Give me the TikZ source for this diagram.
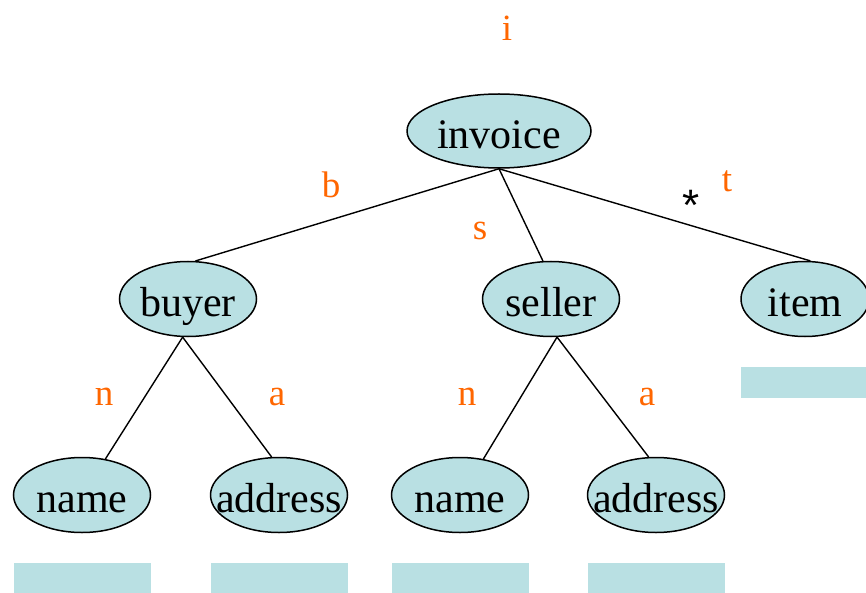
\documentclass[tikz,border=0pt]{standalone}
\usepackage{fontspec}
\setmainfont{Liberation Serif}
\newfontfamily\starfont{Liberation Sans}
\definecolor{elemfill}{RGB}{185, 224, 227}
\definecolor{lblorange}{RGB}{255, 102, 0}
\usetikzlibrary{shapes.geometric, positioning}
\newcommand{\elemtext}[1]{\makebox[0pt]{#1}}
\tikzset{
	elem/.style={ellipse, draw=black, fill=elemfill, line width=1.5pt, inner sep=0pt, minimum width=137pt, minimum height=75pt, text height=37pt, text depth=2pt, font=\fontsize{42}{48}\selectfont},
	slot/.style={rectangle, fill=elemfill, inner sep=0pt, minimum width=137pt, minimum height=31pt},
	lbl/.style={text=lblorange, inner sep=0pt, font=\fontsize{37}{44}\selectfont},
	edge/.style={line width=1.4pt, draw=black},
}

\begin{document}
\begin{tikzpicture}[x=1pt, y=-1pt]
		\useasboundingbox (0,0) rectangle (866,593);
		% tree of elements
		\node[elem, minimum width=184pt, minimum height=74pt] (invoice) at (499,131) {\elemtext{invoice}};
		\node[elem] (buyer) at (188,299) {\elemtext{buyer}};
		\node[elem] (seller) at (551,299) {\elemtext{seller}};
		\node[elem, minimum width=128pt] (item) at (805,299) {\elemtext{item}};
		\node[elem] (bname) at (82,495) {\elemtext{name}};
		\node[elem] (baddr) at (279,495) {\elemtext{address}};
		\node[elem] (sname) at (460,495) {\elemtext{name}};
		\node[elem] (saddr) at (656,495) {\elemtext{address}};
		% content slots
		\node[slot, below=30pt of bname] (bnameslot) {};
		\node[slot, below=30pt of baddr] (baddrslot) {};
		\node[slot, below=30pt of sname] (snameslot) {};
		\node[slot, below=30pt of saddr] (saddrslot) {};
		\node[slot, below=30pt of item, minimum width=128pt] (itemslot) {};
		% connectors
		\draw[edge] (invoice.south) -- (buyer.79);
		\draw[edge] (invoice.south) -- (seller.102);
		\draw[edge] (invoice.south) -- (item.82);
		\draw[edge] (buyer.262) -- (bname.57);
		\draw[edge] (buyer.262) -- (baddr.101);
		\draw[edge] (seller.279) -- (sname.57);
		\draw[edge] (seller.279) -- (saddr.101);
		% edge labels
		\node[lbl] (li) at (507,28) {i};
		\node[lbl] (lb) at (331,185) {b};
		\node[lbl] (ls) at (480,231) {s};
		\node[lbl] (lt) at (727,181) {t};
		\node[inner sep=0pt, font=\starfont\fontsize{44}{50}\selectfont] (star) at (691,205) {*};
		\node[lbl] (lbn) at (104,397) {n};
		\node[lbl] (lba) at (277,397) {a};
		\node[lbl] (lsn) at (467,397) {n};
		\node[lbl] (lsa) at (647,397) {a};
	\end{tikzpicture}
\end{document}
